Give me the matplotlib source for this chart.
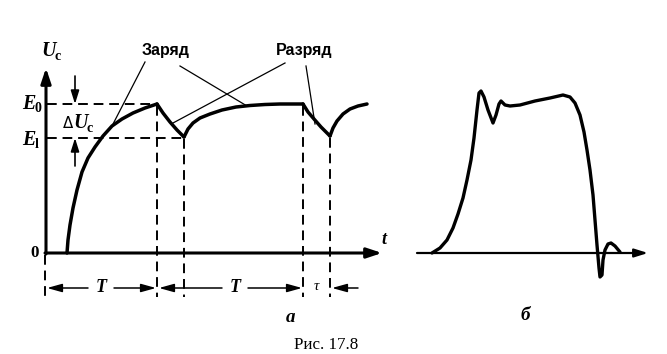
import matplotlib
matplotlib.use("Agg")
import matplotlib.pyplot as plt

# ---- diagram data (pixel coordinates) ----
charge1_x = [67, 68, 70, 73, 77, 82, 88, 95, 103, 112, 122, 133, 145, 157]
charge1_y = [253, 240, 225, 208, 190, 172, 158, 147, 136, 126, 119, 113, 108, 104]
discharge1_x = [157, 163, 170, 177, 184]
discharge1_y = [104, 113, 122, 130, 137]
charge2_x = [184, 188, 193, 200, 210, 222, 236, 250, 265, 280, 303]
charge2_y = [137, 129, 123, 118, 114, 110, 107, 105.5, 104.5, 104, 104]
discharge2_x = [303, 308, 314, 321, 330]
discharge2_y = [104, 112, 119, 127, 136]
charge3_x = [330, 333, 337, 343, 350, 358, 367]
charge3_y = [136, 128, 121, 114, 109, 106, 104]

pulse_x = [432, 440, 447, 453, 458, 463, 467, 471, 474, 477, 479, 481, 484, 488, 493,
           496, 499, 501, 505, 510, 520, 535, 550, 563, 570, 575, 580, 584, 587, 590,
           593, 595, 597, 599, 600, 602, 603, 605, 608, 611, 615, 620]
pulse_y = [253, 248, 240, 228, 214, 198, 180, 160, 138, 110, 93, 91, 97, 110, 123,
           115, 104, 101, 105, 106, 105, 101, 98, 95, 97, 103, 115, 132, 150, 170,
           195, 220, 245, 268, 277, 275, 260, 250, 244, 243, 246, 252]

level_E0, level_E1 = 104, 138

fig = plt.figure(figsize=(6.67, 3.54), dpi=100)
ax = fig.add_axes([0, 0, 1, 1])
ax.set_xlim(0, 667)
ax.set_ylim(354, 0)
ax.axis("off")

K = "black"
thick = 2.5
serif = "Liberation Serif"

# curves
for xs, ys in [(charge1_x, charge1_y), (discharge1_x, discharge1_y), (charge2_x, charge2_y),
               (discharge2_x, discharge2_y), (charge3_x, charge3_y)]:
    ax.plot(xs, ys, color=K, lw=thick, solid_capstyle="round", solid_joinstyle="round")
ax.plot(pulse_x, pulse_y, color=K, lw=2.4, solid_capstyle="round", solid_joinstyle="round")

# axes of panel a
arrow_kw = dict(arrowstyle="-|>,head_length=0.9,head_width=0.3", color=K, lw=2.2, shrinkA=0, shrinkB=0)
ax.annotate("", xy=(46, 68), xytext=(46, 254), arrowprops=arrow_kw)
ax.annotate("", xy=(382, 253), xytext=(45, 253), arrowprops=arrow_kw)
# axis of panel б
ax.annotate("", xy=(648, 253), xytext=(417, 253),
            arrowprops=dict(arrowstyle="-|>,head_length=0.8,head_width=0.25", color=K, lw=1.6,
                            shrinkA=0, shrinkB=0))

# dashed lines
dash = dict(color=K, lw=1.4, dashes=(5, 3))
ax.plot([47, 157], [level_E0, level_E0], **dash)
ax.plot([47, 184], [level_E1, level_E1], **dash)
ax.plot([45, 45], [255, 297], **dash)
ax.plot([157, 157], [106, 297], **dash)
ax.plot([184, 184], [139, 297], **dash)
ax.plot([303, 303], [106, 297], **dash)
ax.plot([330, 330], [138, 297], **dash)

# delta U arrows
small_arrow = dict(arrowstyle="-|>,head_length=0.8,head_width=0.25", color=K, lw=1.2, shrinkA=0, shrinkB=0)
ax.annotate("", xy=(75, level_E0), xytext=(75, 76), arrowprops=small_arrow)
ax.annotate("", xy=(75, level_E1), xytext=(75, 166), arrowprops=small_arrow)

# T / tau arrows
ya = 288
dim_arrow = dict(arrowstyle="-|>,head_length=0.9,head_width=0.25", color=K, lw=1.1, shrinkA=0, shrinkB=0)
ax.annotate("", xy=(47, ya), xytext=(88, ya), arrowprops=dim_arrow)
ax.annotate("", xy=(156, ya), xytext=(114, ya), arrowprops=dim_arrow)
ax.annotate("", xy=(159, ya), xytext=(222, ya), arrowprops=dim_arrow)
ax.annotate("", xy=(302, ya), xytext=(248, ya), arrowprops=dim_arrow)
ax.annotate("", xy=(332, ya), xytext=(358, ya), arrowprops=dim_arrow)

# leader lines
lead = dict(color=K, lw=0.9)
ax.plot([145, 112], [62, 126], **lead)
ax.plot([180, 247], [66, 106], **lead)
ax.plot([285, 173], [63, 123], **lead)
ax.plot([306, 315], [66, 124], **lead)

# texts (size in pixels)
def t(x, y, s, size=13, style="normal", weight="normal", family=serif, ha="center", va="center"):
    ax.text(x, y, s, fontsize=size * 0.72, fontstyle=style, fontweight=weight,
            family=family, ha=ha, va=va, color=K)

t(49, 51, "U", 20, "italic", "bold")
t(58, 57, "c", 14, "normal", "bold")
t(29, 104, "E", 20, "italic", "bold")
t(38, 109, "0", 14, "normal", "bold")
t(29, 140, "E", 20, "italic", "bold")
t(37, 145, "l", 14, "normal", "bold")
t(68, 124, "Δ", 15, "normal", "normal", family="DejaVu Sans")
t(81, 123, "U", 20, "italic", "bold")
t(90, 128, "c", 14, "normal", "bold")
t(35, 253, "0", 17, "normal", "bold")
t(384, 239, "t", 18, "italic", "bold")
t(101, 287, "T", 18, "italic", "bold")
t(235, 287, "T", 18, "italic", "bold")
t(316, 286, "τ", 15, "italic")
t(166, 51, "Заряд", 16, "normal", "bold", family="Liberation Sans")
t(304, 51, "Разряд", 16, "normal", "bold", family="Liberation Sans")
t(291, 317, "а", 19, "italic", "bold")
t(525, 316, "б", 19, "italic", "bold")
t(326, 345, "Рис. 17.8", 17)

fig.savefig("out.png", dpi=100)
